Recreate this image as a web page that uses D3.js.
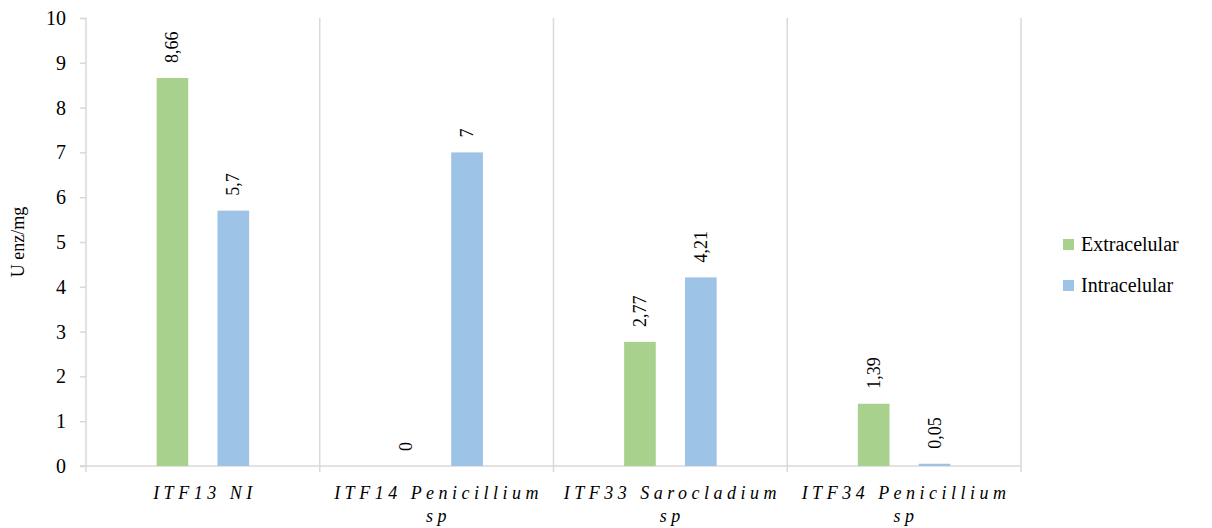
<!DOCTYPE html>
<html>
<head>
<meta charset="utf-8">
<script src="https://cdn.jsdelivr.net/npm/d3@7"></script>
<style>
  body { margin: 0; background: #fff; }
  svg text { font-family: "Liberation Serif", "Times New Roman", Times, "DejaVu Serif", serif; fill: #000; }
</style>
</head>
<body>
<svg width="1212" height="528"></svg>
<script>
var categories = ["ITF13 NI", "ITF14 Penicillium sp", "ITF33 Sarocladium sp", "ITF34 Penicillium sp"];
var categoryLines = [["ITF13 NI"], ["ITF14 Penicillium", "sp"], ["ITF33 Sarocladium", "sp"], ["ITF34 Penicillium", "sp"]];
var seriesNames = ["Extracelular", "Intracelular"];
var extracelular = [8.66, 0, 2.77, 1.39];
var intracelular = [5.7, 7, 4.21, 0.05];
var valueLabels = [["8,66", "0", "2,77", "1,39"], ["5,7", "7", "4,21", "0,05"]];
var yTicks = [0, 1, 2, 3, 4, 5, 6, 7, 8, 9, 10];
var colors = ["#a9d18e", "#9dc3e6"];

var serif = "'Liberation Serif', 'Times New Roman', Times, 'DejaVu Serif', serif";

var svg = d3.select("svg");
var margin = {"top": 18, "right": 191, "bottom": 62, "left": 86};
var width = +svg.attr("width") - margin.left - margin.right;
var height = +svg.attr("height") - margin.top - margin.bottom;
var g = svg.append("g").attr("transform", "translate(" + margin.left + "," + margin.top + ")");

var x = d3.scaleBand().domain(categories).range([0, width]);
var xs = d3.scaleBand().domain(seriesNames).range([0, x.bandwidth()]).paddingInner(0.48).paddingOuter(1.16);
var y = d3.scaleLinear().domain([0, 10]).range([height, 0]);

var series = [extracelular, intracelular];
var axisColor = "#d9d9d9";

// category separators
g.selectAll(".sep")
    .data(categories)
    .enter().append("line")
    .attr("x1", function (d) { return x(d) + x.bandwidth(); })
    .attr("x2", function (d) { return x(d) + x.bandwidth(); })
    .attr("y1", 0)
    .attr("y2", height + 6)
    .style("stroke", axisColor)
    .style("stroke-width", 1.5);

// y axis
var yAxis = g.append("g").call(d3.axisLeft(y).tickValues(yTicks).tickSize(6).tickPadding(14));
yAxis.attr("font-family", null);
yAxis.select(".domain").style("stroke", axisColor).style("stroke-width", 1.5)
    .attr("d", "M-6,0.5H0V" + height + "H-6");
yAxis.selectAll(".tick line").style("stroke", axisColor).style("stroke-width", 1.5);
yAxis.selectAll(".tick text").style("font-size", "20px").style("font-family", serif);

// x axis line
g.append("line")
    .attr("x1", -6).attr("x2", width)
    .attr("y1", height).attr("y2", height)
    .style("stroke", axisColor).style("stroke-width", 1.5);
g.append("line")
    .attr("x1", 0).attr("x2", 0)
    .attr("y1", height).attr("y2", height + 6)
    .style("stroke", axisColor).style("stroke-width", 1.5);

// bars
series.forEach(function (vals, si) {
    g.selectAll(".bar" + si)
        .data(vals)
        .enter().append("rect")
        .attr("x", function (d, i) { return x(categories[i]) + xs(seriesNames[si]); })
        .attr("y", function (d) { return y(d); })
        .attr("width", xs.bandwidth())
        .attr("height", function (d) { return height - y(d); })
        .style("fill", colors[si]);

    g.selectAll(".lab" + si)
        .data(vals)
        .enter().append("text")
        .attr("transform", function (d, i) {
            var cx = x(categories[i]) + xs(seriesNames[si]) + xs.bandwidth() / 2 + 6;
            return "translate(" + cx + "," + (y(d) - 15) + ") rotate(-90)";
        })
        .attr("text-anchor", "start")
        .style("font-size", "18px")
        .style("font-family", serif)
        .text(function (d, i) { return valueLabels[si][i]; });
});

// category labels
categoryLines.forEach(function (lines, i) {
    var t = g.append("text")
        .attr("x", x(categories[i]) + x.bandwidth() / 2)
        .attr("y", height + 33)
        .attr("text-anchor", "middle")
        .style("font-size", "18px")
        .style("font-family", serif)
        .style("font-style", "italic")
        .style("letter-spacing", "4.5px");
    lines.forEach(function (line, li) {
        t.append("tspan")
            .attr("x", x(categories[i]) + x.bandwidth() / 2 + 2)
            .attr("dy", li === 0 ? 0 : 23)
            .text(line);
    });
});

// y title
svg.append("text")
    .attr("transform", "translate(24," + (margin.top + height / 2) + ") rotate(-90)")
    .attr("text-anchor", "middle")
    .style("font-size", "18px")
    .style("font-family", serif)
    .text("U enz/mg");

// legend
var legend = svg.append("g").attr("transform", "translate(1063,239)");
seriesNames.forEach(function (name, i) {
    var row = legend.append("g").attr("transform", "translate(0," + (i * 41) + ")");
    row.append("rect").attr("x", 0).attr("y", 0).attr("width", 11).attr("height", 11).style("fill", colors[i]);
    row.append("text").attr("x", 18).attr("y", 12)
        .style("font-size", "20px")
        .style("font-family", serif)
        .text(name);
});
</script>
</body>
</html>
